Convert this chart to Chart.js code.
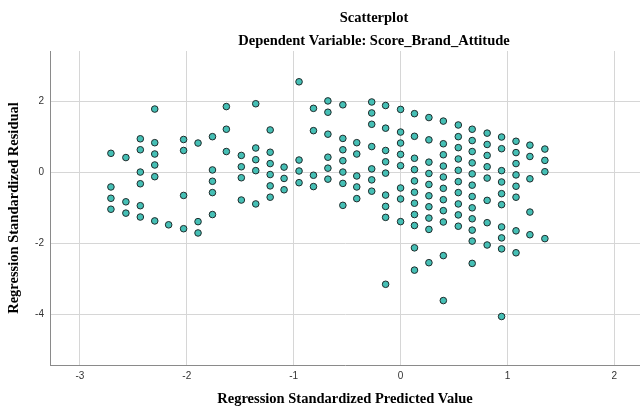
<!DOCTYPE html>
<html>
<head>
<meta charset="utf-8">
<title>Scatterplot</title>
<script src="https://cdn.jsdelivr.net/npm/chart.js@4.4.1/dist/chart.umd.min.js"></script>
<style>
	html, body { margin: 0; padding: 0; background: #fff; overflow: hidden; }
	#wrap { width: 640px; height: 406px; }
</style>
</head>
<body>
<div id="wrap"><canvas id="residual-scatter" width="640" height="406"></canvas></div>
<script>
// Standardized predicted values, one vertical column of dots for each level.
const predictedLevels = [
	-2.71, -2.57, -2.435, -2.30, -2.17, -2.03, -1.895, -1.76, -1.63, -1.49, -1.355,
	-1.22, -1.09, -0.95, -0.815, -0.68, -0.54, -0.41, -0.27, -0.14, 0.00,
	0.13, 0.265, 0.40, 0.54, 0.67, 0.81, 0.945, 1.08, 1.21, 1.35
];

// Standardized residuals found at each predicted level (same order as above).
const residualsAtLevel = [
	[ 0.54, -0.41, -0.73, -1.04 ],
	[ 0.42, -0.83, -1.15 ],
	[ 0.95, 0.64, 0.01, -0.32, -0.94, -1.26 ],
	[ 1.79, 0.84, 0.52, 0.21, -0.12, -1.37 ],
	[ -1.48 ],
	[ 0.93, 0.62, -0.65, -1.59 ],
	[ 0.83, -1.39, -1.71 ],
	[ 1.01, 0.07, -0.25, -0.57, -1.19 ],
	[ 1.86, 1.22, 0.59 ],
	[ 0.48, 0.16, -0.15, -0.78 ],
	[ 1.94, 0.69, 0.36, 0.05, -0.89 ],
	[ 1.20, 0.57, 0.25, -0.06, -0.38, -0.70 ],
	[ 0.15, -0.17, -0.49 ],
	[ 2.56, 0.35, 0.04, -0.29 ],
	[ 1.81, 1.18, -0.08, -0.40 ],
	[ 2.02, 1.70, 1.08, 0.43, 0.12, -0.19 ],
	[ 1.91, 0.96, 0.64, 0.33, 0.01, -0.31, -0.93 ],
	[ 0.84, 0.52, -0.10, -0.41, -0.74 ],
	[ 1.99, 1.68, 1.36, 0.73, 0.10, -0.21, -0.53 ],
	[ 1.89, 1.25, 0.62, 0.30, -0.02, -0.64, -0.96, -1.27, -3.16 ],
	[ 1.78, 1.14, 0.83, 0.51, 0.19, -0.44, -0.75, -1.39 ],
	[ 1.66, 1.02, 0.40, 0.08, -0.24, -0.56, -0.87, -1.19, -1.50, -2.13, -2.76 ],
	[ 1.55, 0.92, 0.29, -0.03, -0.34, -0.66, -0.97, -1.29, -1.61, -2.55 ],
	[ 1.45, 0.81, 0.50, 0.18, -0.13, -0.45, -0.77, -1.08, -1.40, -2.35, -3.62 ],
	[ 1.34, 1.01, 0.70, 0.38, 0.06, -0.26, -0.57, -0.89, -1.20, -1.52 ],
	[ 1.22, 0.90, 0.59, 0.27, -0.04, -0.36, -0.68, -1.00, -1.31, -1.63, -1.94, -2.57 ],
	[ 1.11, 0.79, 0.48, 0.16, -0.16, -0.79, -1.42, -2.05 ],
	[ 1.00, 0.67, 0.05, -0.27, -0.60, -0.91, -1.54, -1.85, -2.16, -4.07 ],
	[ 0.88, 0.56, 0.25, -0.07, -0.39, -0.70, -1.65, -2.27 ],
	[ 0.77, 0.45, -0.18, -1.12, -1.76 ],
	[ 0.66, 0.34, 0.02, -1.87 ]
];

const xTickValues = [ -3, -2, -1, 0, 1, 2 ];
const yTickValues = [ -4, -2, 0, 2 ];

const chartTitle    = 'Scatterplot';
const chartSubtitle = 'Dependent Variable: Score_Brand_Attitude';
const xAxisTitle    = 'Regression Standardized Predicted Value';
const yAxisTitle    = 'Regression Standardized Residual';

let points = [];
predictedLevels.forEach(
	function ( level, i ) {
		residualsAtLevel[ i ].forEach(
			function ( r ) {
				points.push( { x: level, y: r } );
			}
		);
	}
);

const serifBold = { family: "'Liberation Serif', 'Times New Roman', serif", size: 14.5, weight: 'bold' };
const tickFont  = { family: "'Liberation Sans', Arial, sans-serif", size: 10 };

// The two heading lines sit off-centre from the plot, so they are drawn by hand.
const headings = {
	id: 'headings',
	afterDraw: function ( chart ) {
		let ctx = chart.ctx;
		ctx.save();
		ctx.fillStyle    = '#000';
		ctx.textAlign    = 'center';
		ctx.textBaseline = 'middle';
		ctx.font = 'bold 14.5px ' + serifBold.family;
		ctx.fillText( chartTitle, 374, 18 );
		ctx.fillText( chartSubtitle, 374, 41 );
		ctx.restore();
	}
};

new Chart(
	document.getElementById( 'residual-scatter' ),
	{
		type: 'scatter',
		data: {
			datasets: [{
				data: points,
				backgroundColor: '#45BFB5',
				borderColor: '#1E2B2B',
				borderWidth: 1,
				pointRadius: 3.3,
				pointHoverRadius: 3.3
			}]
		},
		plugins: [ headings ],
		options: {
			responsive: false,
			animation: false,
			// plot runs right up to the canvas edge, so no automatic room for the dots
			layout: { autoPadding: false, padding: { top: 51, right: 0, bottom: 0, left: 0 } },
			plugins: {
				legend: { display: false },
				tooltip: { enabled: false }
			},
			scales: {
				x: {
					type: 'linear',
					min: -3.28,
					max: 2.24,
					afterBuildTicks: function ( scale ) {
						scale.ticks = xTickValues.map( v => ( { value: v } ) );
					},
					afterFit: function ( scale ) {
						scale.height       = 41;
						scale.paddingLeft  = 0;
						scale.paddingRight = 0;
					},
					grid: { color: '#d6d6d6', drawTicks: false },
					border: { color: '#8a8a8a' },
					ticks: { font: tickFont, color: '#333', padding: 5, maxRotation: 0, autoSkip: false },
					title: { display: true, text: xAxisTitle, font: serifBold, color: '#000', padding: { top: 0, bottom: -2 } }
				},
				y: {
					type: 'linear',
					min: -5.44,
					max: 3.43,
					afterBuildTicks: function ( scale ) {
						scale.ticks = yTickValues.map( v => ( { value: v } ) );
					},
					afterFit: function ( scale ) {
						scale.width = 50;
					},
					grid: { color: '#d6d6d6', drawTicks: false },
					border: { color: '#8a8a8a' },
					ticks: { font: tickFont, color: '#333', padding: 6, autoSkip: false },
					title: { display: true, text: yAxisTitle, font: serifBold, color: '#000', padding: { top: 6, bottom: 0 } }
				}
			}
		}
	}
);
</script>
</body>
</html>
